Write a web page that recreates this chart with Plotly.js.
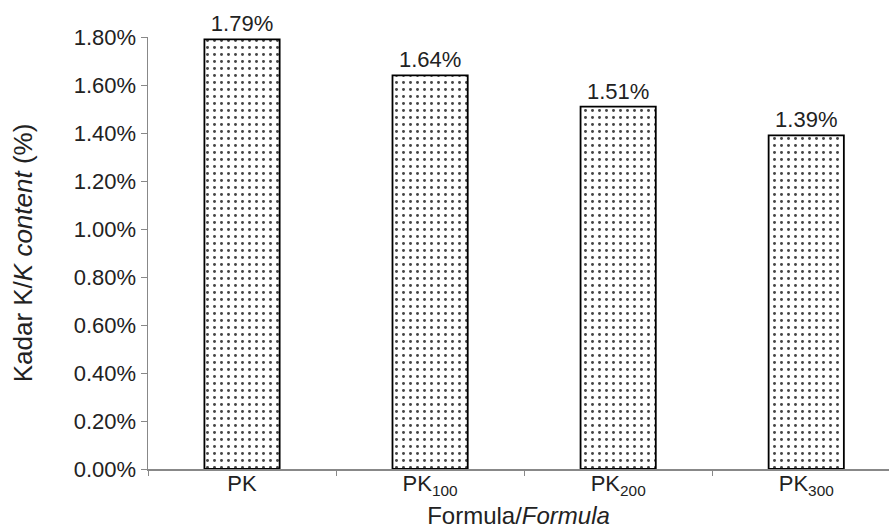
<!DOCTYPE html>
<html><head><meta charset="utf-8">
<script src="https://cdn.plot.ly/plotly-3.0.1.min.js"></script>
<style>html,body{margin:0;padding:0;background:#fff}</style>
</head><body>
<div id="chart" style="width:889px;height:529px"></div>
<script>
const categories = ["PK", "PK<sub>100</sub>", "PK<sub>200</sub>", "PK<sub>300</sub>"];
const values = [0.0179, 0.0164, 0.0151, 0.0139];
const labels = ["1.79%", "1.64%", "1.51%", "1.39%"];
const yTicks = [0, 0.002, 0.004, 0.006, 0.008, 0.010, 0.012, 0.014, 0.016, 0.018];

const font = "Liberation Sans, Arial, sans-serif";
const trace = {
  type: "bar",
  x: categories,
  y: values,
  text: labels,
  textposition: "outside",
  cliponaxis: false,
  textfont: {family: font, size: 22, color: "#222"},
  width: 0.4,
  marker: {
    color: "#ffffff",
    line: {color: "#000", width: 1.8},
    pattern: {shape: ".", fgcolor: "#444", bgcolor: "#fff", size: 7, solidity: 0.14}
  },
  hoverinfo: "skip"
};
const layout = {
  width: 889, height: 529,
  margin: {l: 148, r: 0, t: 37, b: 60},
  paper_bgcolor: "#fff", plot_bgcolor: "#fff",
  showlegend: false,
  font: {family: font, size: 22, color: "#222"},
  xaxis: {
    range: [-0.5, 3.44],
    showline: true, linecolor: "#888", linewidth: 1.5,
    ticks: "outside", tickson: "boundaries", ticklen: 5, tickcolor: "#888", tickwidth: 1,
    ticklabelstandoff: -6,
    showgrid: false, zeroline: false,
    tickfont: {family: font, size: 22, color: "#222"},
    title: {text: "Formula/<i>Formula</i>", font: {family: font, size: 24, color: "#222"}, standoff: 11}
  },
  yaxis: {
    range: [0, 0.018],
    tickvals: yTicks, tickformat: ".2%",
    showline: true, linecolor: "#888", linewidth: 1.5,
    ticks: "outside", ticklen: 6, tickcolor: "#888", tickwidth: 1,
    showgrid: false, zeroline: false,
    tickfont: {family: font, size: 22, color: "#222"},
    title: {text: "Kadar K/<i>K content</i> (%)", font: {family: font, size: 26, color: "#222"}, standoff: 33}
  }
};
Plotly.newPlot("chart", [trace], layout, {displayModeBar: false, staticPlot: true});
</script>
</body></html>
